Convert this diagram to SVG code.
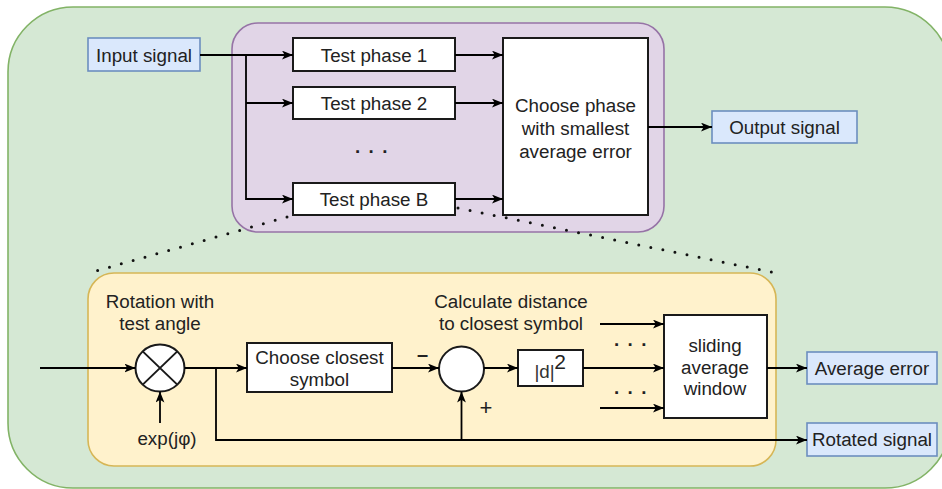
<svg xmlns="http://www.w3.org/2000/svg" width="942" height="489" viewBox="0 0 942 489">
  <style>
    text { font-family: "Liberation Sans", Arial, Helvetica, sans-serif; font-size: 18.8px; fill: #222; text-anchor: middle; }
    .blk { fill: #ffffff; stroke: #1a1a1a; stroke-width: 2; }
    .io { fill: #dae8fc; stroke: #6c8ebf; stroke-width: 1.6; }
    .wire { fill: none; stroke: #000; stroke-width: 1.8; }
    .arr { marker-end: url(#head); }
    .dots { fill: none; stroke: #111; stroke-width: 3; stroke-linecap: round; stroke-dasharray: 0 12.3; }
    .ell { letter-spacing: 1.6px; font-weight: bold; }
  </style>
  <defs>
    <marker id="head" viewBox="0 0 10 8" refX="10" refY="4" markerWidth="11" markerHeight="9" markerUnits="userSpaceOnUse" orient="auto">
      <path d="M0,0 L10,4 L0,8 L2.5,4 Z" fill="#000"/>
    </marker>
  </defs>

  <!-- containers -->
  <g id="system">
    <rect x="8" y="7" width="942" height="481" rx="65" ry="65" fill="#d5e8d4" stroke="#82b366" stroke-width="1.6"/>
  </g>
  <g id="phase-search">
    <rect x="232" y="23" width="432" height="209" rx="26" ry="26" fill="#e1d5e7" stroke="#9673a6" stroke-width="1.6"/>
  </g>
  <g id="phase-tester">
    <rect x="88" y="273" width="688" height="193" rx="26" ry="26" fill="#fff2cc" stroke="#d6b656" stroke-width="1.6"/>
  </g>

  <!-- zoom guides from "Test phase B" to its detail -->
  <g id="detail-guides">
    <path class="dots" d="M287,217 L89,273"/>
    <path class="dots" d="M458,208 L776,273"/>
  </g>

  <!-- upper level nodes -->
  <g id="input-signal">
    <rect class="io" x="88" y="38" width="112" height="33"/>
    <text x="144" y="61.5">Input signal</text>
  </g>
  <g id="test-phase-1">
    <rect class="blk" x="293" y="38" width="162" height="33"/>
    <text x="374" y="61.5">Test phase 1</text>
  </g>
  <g id="test-phase-2">
    <rect class="blk" x="293" y="87" width="162" height="32"/>
    <text x="374" y="109.5">Test phase 2</text>
  </g>
  <g id="phase-ellipsis">
    <text class="ell" x="372" y="153">. . .</text>
  </g>
  <g id="test-phase-b">
    <rect class="blk" x="293" y="183" width="162" height="32"/>
    <text x="374" y="205.5">Test phase B</text>
  </g>
  <g id="choose-phase">
    <rect class="blk" x="503" y="38" width="145" height="177"/>
    <text x="575.5" y="111.5">Choose phase</text>
    <text x="575.5" y="134.5">with smallest</text>
    <text x="575.5" y="157.5">average error</text>
  </g>
  <g id="output-signal">
    <rect class="io" x="712" y="111" width="145" height="32"/>
    <text x="784.5" y="133.5">Output signal</text>
  </g>

  <!-- detail level nodes -->
  <g id="rotation-label">
    <text x="160" y="308">Rotation with</text>
    <text x="160" y="330">test angle</text>
  </g>
  <g id="multiplier">
    <ellipse cx="160" cy="368" rx="24.5" ry="23.5" fill="#fff" stroke="#1a1a1a" stroke-width="2"/>
    <path d="M142.7,351.4 L177.3,384.6 M177.3,351.4 L142.7,384.6" fill="none" stroke="#1a1a1a" stroke-width="2"/>
  </g>
  <g id="phase-factor">
    <text x="167" y="445">exp(jφ)</text>
  </g>
  <g id="choose-symbol">
    <rect class="blk" x="247" y="343" width="145" height="49"/>
    <text x="319.5" y="364">Choose closest</text>
    <text x="319.5" y="386">symbol</text>
  </g>
  <g id="distance-label">
    <text x="511" y="308">Calculate distance</text>
    <text x="511" y="330">to closest symbol</text>
  </g>
  <g id="subtractor">
    <circle cx="461.5" cy="369" r="22.5" fill="#fff" stroke="#1a1a1a" stroke-width="2"/>
    <text x="422.5" y="361" style="font-size:20px;font-weight:bold">–</text>
    <text x="486" y="415" style="font-size:22px">+</text>
  </g>
  <g id="squared-magnitude">
    <rect class="blk" x="518" y="350" width="65" height="36"/>
    <text x="544.5" y="378" style="fill:#333">|d|</text>
    <text x="560" y="368.5" style="font-size:21px">2</text>
  </g>
  <g id="window-ellipsis">
    <text class="ell" x="631" y="345.5">. . .</text>
    <text class="ell" x="631" y="393.5">. . .</text>
  </g>
  <g id="sliding-average">
    <rect class="blk" x="664" y="315" width="103" height="103"/>
    <text x="715" y="352">sliding</text>
    <text x="715" y="373.5">average</text>
    <text x="715" y="395">window</text>
  </g>
  <g id="average-error">
    <rect class="io" x="807" y="352" width="130" height="32"/>
    <text x="872" y="374.5">Average error</text>
  </g>
  <g id="rotated-signal">
    <rect class="io" x="807" y="423" width="130" height="33"/>
    <text x="872" y="446">Rotated signal</text>
  </g>

  <!-- connectors -->
  <g id="connectors">
    <path class="wire arr" d="M200,55 H293"/>
    <path class="wire arr" d="M246,55 V199 H293"/>
    <path class="wire arr" d="M246,103 H293"/>
    <path class="wire arr" d="M455,55 H503"/>
    <path class="wire arr" d="M455,103 H503"/>
    <path class="wire arr" d="M455,199 H503"/>
    <path class="wire arr" d="M648,127 H712"/>

    <path class="wire arr" d="M40,368 H135.5"/>
    <path class="wire arr" d="M160,423 V391.5"/>
    <path class="wire arr" d="M184.5,368 H247"/>
    <path class="wire arr" d="M392,368 H439"/>
    <path class="wire arr" d="M216,368 V440 H807"/>
    <path class="wire arr" d="M461.5,440 V391.5"/>
    <path class="wire arr" d="M484,368 H518"/>
    <path class="wire arr" d="M583,368 H664"/>
    <path class="wire arr" d="M600,324 H664"/>
    <path class="wire arr" d="M600,408 H664"/>
    <path class="wire arr" d="M767,368 H807"/>
  </g>
</svg>
